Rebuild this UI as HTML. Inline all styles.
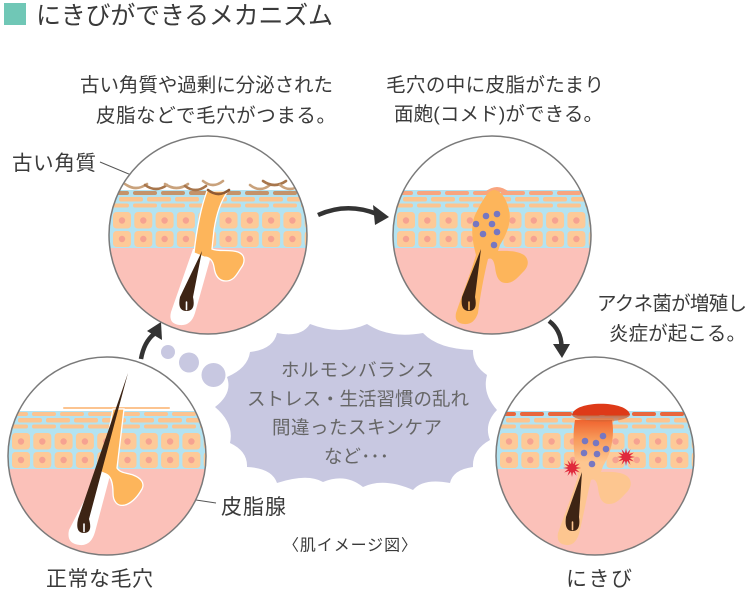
<!DOCTYPE html>
<html>
<head>
<meta charset="utf-8">
<style>
html,body{margin:0;padding:0;background:#fff;}
svg{display:block;}
text{font-family:"Liberation Sans","Noto Sans CJK JP",sans-serif;}
</style>
</head>
<body>
<svg width="750" height="591" viewBox="0 0 750 591" xmlns="http://www.w3.org/2000/svg">
<defs>
  <clipPath id="cc"><circle cx="0" cy="0" r="99"/></clipPath>
  <g id="skin">
    <rect x="-100" y="-100" width="200" height="200" fill="#fff"/>
    <rect x="-100" y="-45" width="200" height="59" fill="#b3e3f1"/>
    <rect x="-100" y="13" width="200" height="90" fill="#fbc1b9"/>
    <g fill="#fcc490">
      <rect x="-117" y="-38" width="24" height="4.5" rx="2"/>
      <rect x="-89" y="-38" width="24" height="4.5" rx="2"/>
      <rect x="-61" y="-38" width="24" height="4.5" rx="2"/>
      <rect x="-33" y="-38" width="24" height="4.5" rx="2"/>
      <rect x="-5" y="-38" width="24" height="4.5" rx="2"/>
      <rect x="23" y="-38" width="24" height="4.5" rx="2"/>
      <rect x="51" y="-38" width="24" height="4.5" rx="2"/>
      <rect x="79" y="-38" width="24" height="4.5" rx="2"/>
      <rect x="-103" y="-31.5" width="24" height="4" rx="2"/>
      <rect x="-75" y="-31.5" width="24" height="4" rx="2"/>
      <rect x="-47" y="-31.5" width="24" height="4" rx="2"/>
      <rect x="-19" y="-31.5" width="24" height="4" rx="2"/>
      <rect x="9" y="-31.5" width="24" height="4" rx="2"/>
      <rect x="37" y="-31.5" width="24" height="4" rx="2"/>
      <rect x="65" y="-31.5" width="24" height="4" rx="2"/>
      <rect x="93" y="-31.5" width="24" height="4" rx="2"/>
    </g>
    <g fill="#fdca98">
      <rect x="-95" y="-23" width="18" height="16.5" rx="3.5"/>
      <rect x="-73.7" y="-23" width="18" height="16.5" rx="3.5"/>
      <rect x="-52.4" y="-23" width="18" height="16.5" rx="3.5"/>
      <rect x="-31.1" y="-23" width="18" height="16.5" rx="3.5"/>
      <rect x="-9.8" y="-23" width="18" height="16.5" rx="3.5"/>
      <rect x="11.5" y="-23" width="18" height="16.5" rx="3.5"/>
      <rect x="32.8" y="-23" width="18" height="16.5" rx="3.5"/>
      <rect x="54.1" y="-23" width="18" height="16.5" rx="3.5"/>
      <rect x="75.4" y="-23" width="18" height="16.5" rx="3.5"/>
      <rect x="96.7" y="-23" width="18" height="16.5" rx="3.5"/>
      <rect x="-95" y="-4" width="18" height="16" rx="3.5"/>
      <rect x="-73.7" y="-4" width="18" height="16" rx="3.5"/>
      <rect x="-52.4" y="-4" width="18" height="16" rx="3.5"/>
      <rect x="-31.1" y="-4" width="18" height="16" rx="3.5"/>
      <rect x="-9.8" y="-4" width="18" height="16" rx="3.5"/>
      <rect x="11.5" y="-4" width="18" height="16" rx="3.5"/>
      <rect x="32.8" y="-4" width="18" height="16" rx="3.5"/>
      <rect x="54.1" y="-4" width="18" height="16" rx="3.5"/>
      <rect x="75.4" y="-4" width="18" height="16" rx="3.5"/>
      <rect x="96.7" y="-4" width="18" height="16" rx="3.5"/>
    </g>
    <g fill="#f6a291">
      <circle cx="-86" cy="-14.5" r="3.2"/><circle cx="-64.7" cy="-14.5" r="3.2"/><circle cx="-43.4" cy="-14.5" r="3.2"/><circle cx="-22.1" cy="-14.5" r="3.2"/><circle cx="-0.8" cy="-14.5" r="3.2"/><circle cx="20.5" cy="-14.5" r="3.2"/><circle cx="41.8" cy="-14.5" r="3.2"/><circle cx="63.1" cy="-14.5" r="3.2"/><circle cx="84.4" cy="-14.5" r="3.2"/>
      <circle cx="-86" cy="4" r="3.2"/><circle cx="-64.7" cy="4" r="3.2"/><circle cx="-43.4" cy="4" r="3.2"/><circle cx="-22.1" cy="4" r="3.2"/><circle cx="-0.8" cy="4" r="3.2"/><circle cx="20.5" cy="4" r="3.2"/><circle cx="41.8" cy="4" r="3.2"/><circle cx="63.1" cy="4" r="3.2"/><circle cx="84.4" cy="4" r="3.2"/>
    </g>
  </g>
  <g id="rowA">
    <rect x="-103" y="-44" width="24" height="4" rx="2"/>
    <rect x="-75" y="-44" width="24" height="4" rx="2"/>
    <rect x="-47" y="-44" width="24" height="4" rx="2"/>
    <rect x="-19" y="-44" width="24" height="4" rx="2"/>
    <rect x="9" y="-44" width="24" height="4" rx="2"/>
    <rect x="37" y="-44" width="24" height="4" rx="2"/>
    <rect x="65" y="-44" width="24" height="4" rx="2"/>
    <rect x="93" y="-44" width="24" height="4" rx="2"/>
  </g>
  <polygon id="burst" points="9,0 3.86,1.04 7.79,4.5 2.83,2.83 4.5,7.79 1.04,3.86 0,9 -1.04,3.86 -4.5,7.79 -2.83,2.83 -7.79,4.5 -3.86,1.04 -9,0 -3.86,-1.04 -7.79,-4.5 -2.83,-2.83 -4.5,-7.79 -1.04,-3.86 0,-9 1.04,-3.86 4.5,-7.79 2.83,-2.83 7.79,-4.5 3.86,-1.04"/>
  <linearGradient id="seb4" gradientUnits="userSpaceOnUse" x1="0" y1="-40" x2="0" y2="6">
    <stop offset="0" stop-color="#ee5826"/>
    <stop offset="0.5" stop-color="#f79a5a"/>
    <stop offset="1" stop-color="#fdc690"/>
  </linearGradient>
  <linearGradient id="dome4" gradientUnits="userSpaceOnUse" x1="0" y1="-41" x2="0" y2="-32">
    <stop offset="0" stop-color="#c8522a" stop-opacity="0.85"/>
    <stop offset="1" stop-color="#d8703a" stop-opacity="0.45"/>
  </linearGradient>
</defs>

<!-- Title -->
<rect x="4" y="3" width="22" height="22" fill="#70c7b6"/>
<text x="36" y="24" font-size="25" fill="#3a3a3a" textLength="297" lengthAdjust="spacing">にきびができるメカニズム</text>

<!-- Captions -->
<text x="80" y="91.5" font-size="19.5" fill="#3a3a3a" textLength="253" lengthAdjust="spacing">古い角質や過剰に分泌された</text>
<text x="96" y="122" font-size="19.5" fill="#3a3a3a" textLength="240" lengthAdjust="spacing">皮脂などで毛穴がつまる。</text>
<text x="386" y="91.5" font-size="19.5" fill="#3a3a3a" textLength="218" lengthAdjust="spacing">毛穴の中に皮脂がたまり</text>
<text x="394" y="120.5" font-size="19.5" fill="#3a3a3a" textLength="209" lengthAdjust="spacing">面皰(コメド)ができる。</text>
<text x="12" y="170" font-size="20.5" fill="#3a3a3a" textLength="84" lengthAdjust="spacing">古い角質</text>
<text x="597" y="310" font-size="19.5" fill="#3a3a3a" textLength="150" lengthAdjust="spacing">アクネ菌が増殖し</text>
<text x="609" y="340" font-size="19.5" fill="#3a3a3a" textLength="137" lengthAdjust="spacing">炎症が起こる。</text>
<text x="221" y="514" font-size="21" fill="#3a3a3a" textLength="65" lengthAdjust="spacing">皮脂腺</text>
<text x="46" y="586" font-size="21" fill="#3a3a3a" textLength="107" lengthAdjust="spacing">正常な毛穴</text>
<text x="566" y="586" font-size="21" fill="#3a3a3a" textLength="66" lengthAdjust="spacing">にきび</text>
<text x="283" y="550.5" font-size="16" fill="#3a3a3a" textLength="134" lengthAdjust="spacing">〈肌イメージ図〉</text>

<!-- leader lines -->
<line x1="100" y1="162" x2="148" y2="182" stroke="#555" stroke-width="1"/>
<line x1="136" y1="491" x2="216" y2="503" stroke="#555" stroke-width="1"/>

<!-- Cloud -->
<circle cx="168" cy="352" r="7" fill="#c8c8e1"/>
<circle cx="189" cy="362.5" r="10" fill="#c8c8e1"/>
<circle cx="213.5" cy="375" r="12" fill="#c8c8e1"/>
<path fill="#c8c8e1" d="M277,333 Q301,338 310,324 Q341,336 367,324 Q390,339 423,333 Q438,349 473,350 Q472.5,365.3 487,375 Q482,393.6 497,410 Q483.5,423.8 490,440 Q472,450 473,467 Q453,469.6 450,483 Q423.2,477.8 413,490 Q383.7,477.3 363,487 Q345.2,472.7 323,482 Q307.3,473 277,483 Q271.8,468.1 247,467 Q247.8,451.3 230,443 Q234.4,423.5 215,407 Q232.9,393.4 227,377 Q247.9,368 250,352 Q273.3,349.4 277,333 Z"/>
<g font-size="18.5" fill="#666">
  <text x="281" y="376.5" textLength="153" lengthAdjust="spacing">ホルモンバランス</text>
  <text x="247" y="405.5" textLength="222" lengthAdjust="spacing">ストレス・生活習慣の乱れ</text>
  <text x="272" y="434" textLength="170" lengthAdjust="spacing">間違ったスキンケア</text>
  <text x="324" y="463" textLength="65" lengthAdjust="spacing">など･･･</text>
</g>

<!-- Arrows -->
<path d="M318,215 Q347,202 377,214" fill="none" stroke="#333" stroke-width="4.5"/>
<polygon points="373,205 389,217 375,225" fill="#333"/>
<path d="M141,359 Q144,342 154,334" fill="none" stroke="#333" stroke-width="4.5"/>
<polygon points="161,322 147,331 162,340" fill="#333"/>
<path d="M549,321 Q561,330 561.5,346" fill="none" stroke="#333" stroke-width="4.5"/>
<polygon points="553,344 570,344 562,358" fill="#333"/>

<!-- Circle 1 -->
<g transform="translate(208,235)">
  <g clip-path="url(#cc)">
    <use href="#skin"/>
    <use href="#rowA" fill="#c4936a"/>
    <path d="M-15,14 L5,14 L-13,78 Q-17,91 -28,90 Q-40,89 -37,77 Z" fill="#fff"/>
    <path d="M-1,-44 L20,-44 C14,-36 9,-25 6,-5 L4,14 C10,17 22,14 30,17 C38,20 37,28 33,33 C29,39 26,46 18,46 C10,46 7,40 6,32 C5,26 2,22 -4,22 L-14,18 C-12,0 -8,-25 -1,-44 Z" fill="#fdb55b" stroke="#fff" stroke-width="1.3"/>
    <path d="M-6,16 L-28,62 Q-31,76 -21.5,76 Q-12,76 -15,62 Z" fill="#3d2414"/>
    <path d="M-21.5,74.5 L-21.5,67" stroke="#fff" stroke-width="1.6" stroke-linecap="round"/>
    <g fill="none" stroke-width="2.6" stroke-linecap="round">
      <path d="M-83,-51 Q-72,-43 -61,-51" stroke="#c9a27c"/>
      <path d="M-63,-50 Q-52,-42 -41,-50" stroke="#a8764c"/>
      <path d="M-43,-51 Q-31.5,-43 -20,-51" stroke="#c9a27c"/>
      <path d="M-23,-49 Q-12.5,-41 -2,-49" stroke="#a8764c"/>
      <path d="M-5,-54 Q5,-46 15,-54" stroke="#c9a27c"/>
      <path d="M0,-45 Q10.5,-37 21,-45" stroke="#8e5a34"/>
      <path d="M42,-50 Q52,-42 62,-50" stroke="#c9a27c"/>
      <path d="M55,-54 Q66.5,-46 78,-54" stroke="#a8764c"/>
      <path d="M72,-50 Q82,-42 92,-50" stroke="#c9a27c"/>
    </g>
  </g>
  <circle r="99" fill="none" stroke="#7a7a7a" stroke-width="1.5"/>
</g>

<!-- Circle 2 -->
<g transform="translate(492,235)">
  <g clip-path="url(#cc)">
    <use href="#skin"/>
    <use href="#rowA" fill="#f9a57f"/>
    <path d="M-7,-43 Q5,-53 17,-43 Z" fill="#f9a57f"/>
    <path d="M2,-45 C8,-45 14,-38 17,-25 C20,-12 14,0 8,10 L6,16 C14,16 24,15 32,20 C38,25 36,32 32,36 C26,42 22,48 14,48 C6,48 4,40 3,32 C2,26 0,22 -4,24 C-8,40 -12,62 -14,78 Q-18,90 -28,89 Q-38,88 -36,78 C-30,60 -22,40 -16,20 C-20,5 -22,-10 -16,-22 C-10,-34 -4,-45 2,-45 Z" fill="#fdb55b"/>
    <path d="M-11,14 L-30,62 Q-32,76 -23,76 Q-14,76 -17,62 Z" fill="#3d2414"/>
    <path d="M-23,74.5 L-23,67" stroke="#fdb55b" stroke-width="1.6" stroke-linecap="round"/>
    <g fill="#7677c2">
      <circle cx="-6" cy="-19" r="3.3"/><circle cx="5" cy="-21" r="3.3"/><circle cx="-16" cy="-11" r="3.3"/><circle cx="0" cy="-11" r="3.3"/><circle cx="5" cy="-3" r="3.3"/><circle cx="-9" cy="-1" r="3.3"/><circle cx="2" cy="10" r="3.3"/>
    </g>
  </g>
  <circle r="99" fill="none" stroke="#7a7a7a" stroke-width="1.5"/>
</g>

<!-- Circle 3 -->
<g transform="translate(107,456)">
  <g clip-path="url(#cc)">
    <use href="#skin"/>
    <use href="#rowA" fill="#fcc490"/>
    <rect x="-44" y="-49" width="107" height="2" rx="1" fill="#fcc490"/>
    <path d="M-6,12 L5,12 L-12,76 Q-16,90 -27,89 Q-41,88 -38,74 Z" fill="#fff"/>
    <path d="M8,-47 L17,-47 L10,12 C13,17 20,17 26,19 C34,22 38,27 35,33 C31,40 25,47 18,49 C10,51 6,45 6,37 C6,28 4,20 -1,18 L-6,16 L6,-47 Z" fill="#fdb55b" stroke="#fff" stroke-width="1.3"/>
    <path d="M21,-83 L-29,63 Q-32,77 -23,77 Q-14,77 -18,63 Z" fill="#3d2414"/>
    <path d="M-23,75.5 L-23,68" stroke="#fff" stroke-width="1.6" stroke-linecap="round"/>
  </g>
  <circle r="99" fill="none" stroke="#7a7a7a" stroke-width="1.5"/>
</g>

<!-- Circle 4 -->
<g transform="translate(595,456)">
  <g clip-path="url(#cc)">
    <use href="#skin"/>
    <use href="#rowA" fill="#e8673d"/>
    <path d="M-20,-36 L17,-36 C20,-20 16,-2 8,10 L6,16 C14,16 24,15 32,20 C38,25 36,32 32,36 C26,42 22,48 14,48 C6,48 4,40 3,32 C2,26 0,22 -4,24 C-8,40 -12,62 -16,78 Q-20,90 -29,89 Q-39,88 -37,77 C-31,60 -23,40 -17,20 C-21,5 -23,-20 -20,-36 Z" fill="url(#seb4)"/>
    <path d="M-23,-41 L35,-41 C30,-32 -18,-32 -23,-41 Z" fill="url(#dome4)"/>
    <path d="M-23,-41 C-21,-56 33,-56 35,-41 Z" fill="#de3a18"/>
    <path d="M-13,16 L-29,61 Q-31,75 -22.5,75 Q-14,75 -16,61 Z" fill="#3d2414"/>
    <path d="M-22.5,73.5 L-22.5,66" stroke="#fdc690" stroke-width="1.6" stroke-linecap="round"/>
    <g fill="#7677c2">
      <circle cx="-10" cy="-15" r="3.3"/><circle cx="1" cy="-13" r="3.3"/><circle cx="8" cy="-20" r="3.3"/><circle cx="11" cy="-7" r="3.3"/><circle cx="-11" cy="-3" r="3.3"/><circle cx="2" cy="-2" r="3.3"/><circle cx="-3" cy="8" r="3.3"/>
    </g>
    <use href="#burst" fill="#e0283c" transform="translate(-23,12)"/>
    <use href="#burst" fill="#e0283c" transform="translate(31,1)"/>
  </g>
  <circle r="99" fill="none" stroke="#7a7a7a" stroke-width="1.5"/>
</g>
</svg>
</body>
</html>
